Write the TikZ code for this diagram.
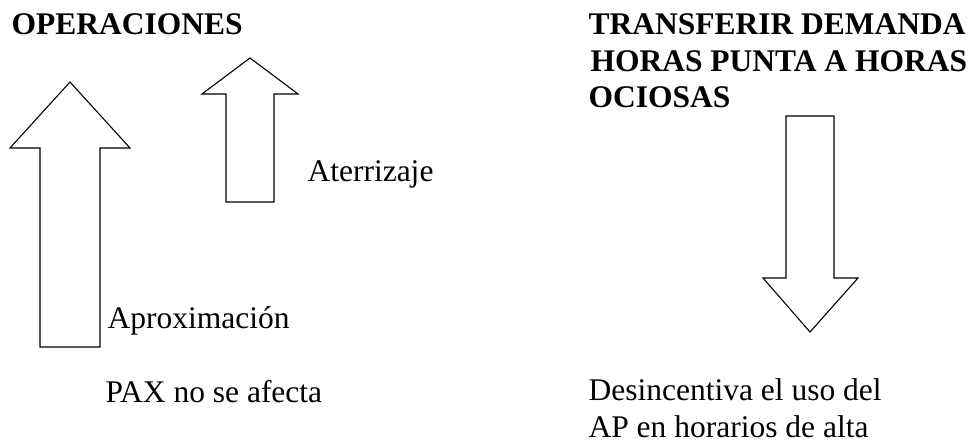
\documentclass[tikz,border=0pt]{standalone}
\usepackage{fontspec}
\setmainfont{Liberation Serif}
\begin{document}
\begin{tikzpicture}[x=1pt,y=-1pt,line width=1.1pt,
 every node/.style={inner sep=0pt,anchor=base west,align=left,font=\fontsize{31.5}{36.5}\selectfont},
 title/.style={font=\fontsize{31.5}{36.5}\selectfont\bfseries},
 arrowshape/.style={draw,line join=miter}]
 \useasboundingbox (0,0) rectangle (971,443);
 % headings (base anchor sits on the last line)
 \node[title] (ops) at (11,35) {OPERACIONES};
 \node[title] (transfer) at (588,108) {TRANSFERIR DEMANDA\\\hspace{2pt}HORAS PUNTA A HORAS\\OCIOSAS};
 % arrows
 \draw[arrowshape] (70,82) -- (130,148) -- (100,148) -- (100,347) -- (40,347) -- (40,148) -- (10,148) -- cycle;
 \draw[arrowshape] (250,58) -- (298,94) -- (274,94) -- (274,202) -- (226,202) -- (226,94) -- (202,94) -- cycle;
 \draw[arrowshape] (810,332) -- (858,278) -- (834,278) -- (834,116) -- (786,116) -- (786,278) -- (763,278) -- cycle;
 % labels
 \node (aterr) at (307,182) {Aterrizaje};
 \node (aprox) at (107,328) {Aproximación};
 \node (pax) at (105,402) {PAX no se afecta};
 \node (desinc) at (588,437) {Desincentiva el uso del\\AP en horarios de alta};
\end{tikzpicture}
\end{document}
